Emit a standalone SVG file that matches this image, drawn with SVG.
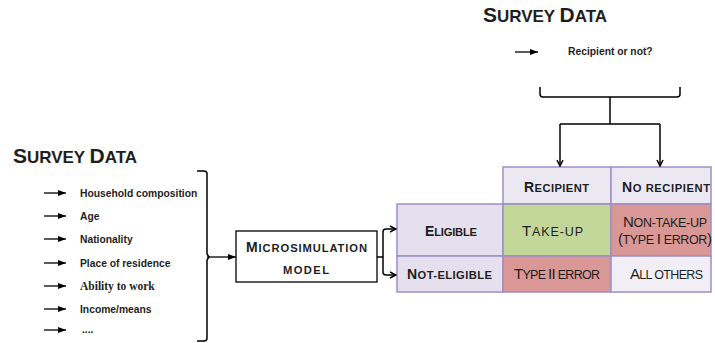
<svg xmlns="http://www.w3.org/2000/svg" width="715" height="343" viewBox="0 0 715 343">
<style>
text{font-family:"Liberation Sans",Arial,sans-serif;fill:#1e1e1e}
.b{font-weight:bold}
.item{font-weight:bold;font-size:10.3px}
.ln{fill:none;stroke:#000;stroke-width:1.5}
.cell{stroke:#9d8ec8;stroke-width:1.5}
.hd{fill:#ece8f2}
.lb{fill:#e5dfee}
.gr{fill:#c4d79b}
.rd{fill:#d99795}
.ot{fill:#f1eff5}
.C{font-size:15px}
.s{font-size:12.5px}
.b .C{font-size:14px}
.b .s,.b.s{font-size:11.2px}
</style>
<defs>
<marker id="tri" viewBox="0 0 8 6" refX="8" refY="3" markerWidth="8" markerHeight="6" orient="auto" markerUnits="userSpaceOnUse"><path d="M0,0 L8,3 L0,6 z" fill="#000"/></marker>
<marker id="ch" viewBox="0 0 8 8" refX="7" refY="4" markerWidth="8" markerHeight="8" orient="auto" markerUnits="userSpaceOnUse"><path d="M1,1 L7,4 L1,7" fill="none" stroke="#000" stroke-width="1.5"/></marker>
</defs>

<g id="survey-left">
<text class="b" x="13" y="163" textLength="124"><tspan font-size="21">S</tspan><tspan font-size="17">URVEY </tspan><tspan font-size="21">D</tspan><tspan font-size="17">ATA</tspan></text>
<text class="item" x="80" y="197">Household composition</text>
<text class="item" x="80" y="220">Age</text>
<text class="item" x="80" y="243">Nationality</text>
<text class="item" x="80" y="267">Place of residence</text>
<text x="80" y="290" style="font-family:'Liberation Serif','Times New Roman',serif;font-weight:bold;font-size:11.5px">Ability to work</text>
<text class="item" x="80" y="313">Income/means</text>
<text class="item" x="82" y="333">....</text>
</g>

<g id="survey-top">
<text class="b" x="483" y="22" textLength="124"><tspan font-size="21">S</tspan><tspan font-size="17">URVEY </tspan><tspan font-size="21">D</tspan><tspan font-size="17">ATA</tspan></text>
<text class="item" x="568" y="55" font-size="10">Recipient or not?</text>
</g>

<g id="microsimulation">
<rect x="236" y="231" width="141" height="51" fill="#fff" stroke="#000" stroke-width="1.3"/>
<text class="b" x="246" y="252" textLength="121"><tspan class="C">M</tspan><tspan class="s">ICROSIMULATION</tspan></text>
<text class="b s" x="283" y="274" textLength="46">MODEL</text>
</g>

<g id="table">
<rect class="cell hd" x="503" y="167" width="108" height="37"/>
<rect class="cell hd" x="611" y="167" width="100" height="37"/>
<rect class="cell lb" x="397" y="204" width="106" height="52"/>
<rect class="cell gr" x="503" y="204" width="108" height="52"/>
<rect class="cell rd" x="611" y="204" width="100" height="52"/>
<rect class="cell lb" x="397" y="256" width="106" height="36"/>
<rect class="cell rd" x="503" y="256" width="108" height="36"/>
<rect class="cell ot" x="611" y="256" width="100" height="36"/>
<text class="b" x="524" y="192" textLength="65"><tspan class="C">R</tspan><tspan class="s">ECIPIENT</tspan></text>
<text class="b" x="622" y="192" textLength="88"><tspan class="C">N</tspan><tspan class="s">O RECIPIENT</tspan></text>
<text class="b" x="425" y="236" textLength="52"><tspan class="C">E</tspan><tspan class="s">LIGIBLE</tspan></text>
<text x="522" y="236" textLength="61"><tspan class="C">T</tspan><tspan class="s">AKE-UP</tspan></text>
<text x="623" y="227" textLength="84"><tspan class="C">N</tspan><tspan class="s">ON-TAKE-UP</tspan></text>
<text x="618" y="244" textLength="94"><tspan class="C">(</tspan><tspan class="s">TYPE </tspan><tspan class="C">I</tspan><tspan class="s"> ERROR</tspan><tspan class="C">)</tspan></text>
<text class="b" x="407" y="279" textLength="85"><tspan class="C">N</tspan><tspan class="s">OT-ELIGIBLE</tspan></text>
<text x="514" y="279" textLength="86"><tspan class="C">T</tspan><tspan class="s">YPE </tspan><tspan class="C">II</tspan><tspan class="s"> ERROR</tspan></text>
<text x="630" y="279" textLength="73"><tspan class="C">A</tspan><tspan class="s">LL OTHERS</tspan></text>
</g>

<g id="connectors">
<g stroke="#000" stroke-width="1.3" marker-end="url(#tri)">
<line x1="44" y1="193" x2="66" y2="193"/>
<line x1="44" y1="216" x2="66" y2="216"/>
<line x1="44" y1="239" x2="66" y2="239"/>
<line x1="44" y1="263" x2="66" y2="263"/>
<line x1="44" y1="286" x2="66" y2="286"/>
<line x1="44" y1="309" x2="66" y2="309"/>
<line x1="44" y1="330" x2="66" y2="330"/>
<line x1="515" y1="52" x2="538" y2="52"/>
<line x1="207" y1="257" x2="236" y2="257"/>
</g>
<path class="ln" d="M197,171 L204,171 Q207,171 207,174 L207,254 L209,257 L207,260 L207,338 Q207,341 204,341 L197,341"/>
<path class="ln" d="M377,257 L383,257 M383,232 L383,272"/>
<path class="ln" d="M383,232 Q383,229 386,229 L396,229" marker-end="url(#ch)"/>
<path class="ln" d="M383,272 Q383,275 386,275 L396,275" marker-end="url(#ch)"/>
<path class="ln" d="M540,87 L540,94 Q540,97 543,97 L677,97 Q680,97 680,94 L680,87 M610,97 L610,124 M560,124 L660,124"/>
<path class="ln" d="M560,124 L560,166" marker-end="url(#ch)"/>
<path class="ln" d="M660,124 L660,166" marker-end="url(#ch)"/>
</g>
</svg>
